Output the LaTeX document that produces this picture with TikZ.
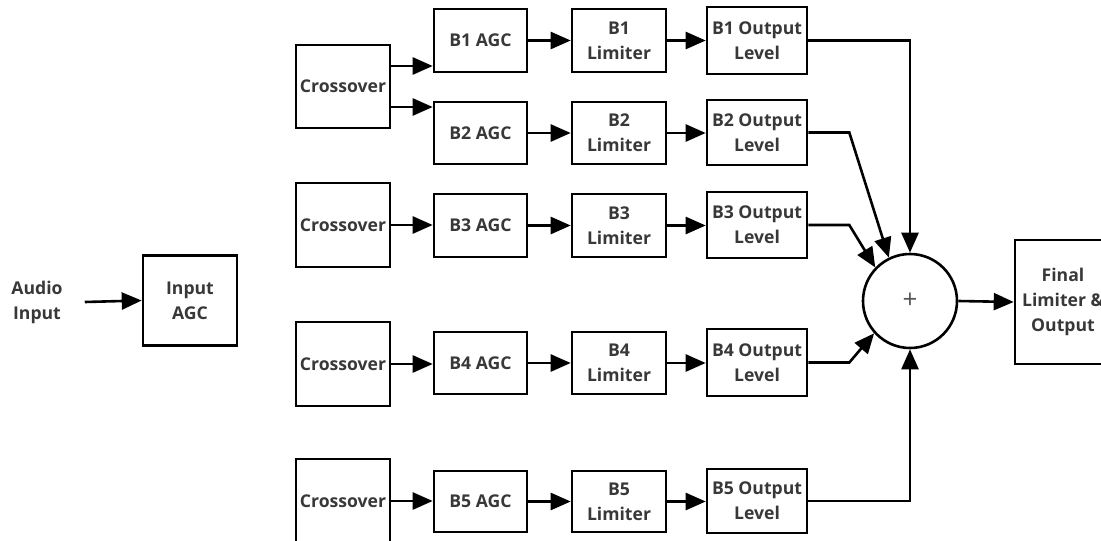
\documentclass[tikz,border=0pt]{standalone}
\usepackage{fontspec}
\setmainfont{Open Sans}
\usetikzlibrary{arrows.meta}
\definecolor{txt}{HTML}{383838}
\tikzset{
  blk/.style={draw=black, line width=2.6pt, fill=white, align=center, inner sep=0pt,
    font=\bfseries\fontsize{17.6}{25}\selectfont, text=txt},
  arr/.style={line width=2.6pt, -{Triangle[length=20pt,width=17pt]}},
  ln/.style={line width=2.6pt}
}
\begin{document}
\begin{tikzpicture}[x=1pt,y=-1pt]
\useasboundingbox (0,0) rectangle (1101,541);
\clip (0,0) rectangle (1101,541);
% left
\node[align=center, inner sep=0pt, font=\bfseries\fontsize{17.6}{25}\selectfont, text=txt] (audio) at (37,302) {Audio\\Input};
\node[blk, minimum width=94pt, minimum height=90pt] (inagc) at (190,300.5) {Input\\AGC};
% crossovers
\node[blk, minimum width=94pt, minimum height=83pt] (cx1) at (343,86.5) {Crossover};
\node[blk, minimum width=94pt, minimum height=84pt] (cx3) at (343,225) {Crossover};
\node[blk, minimum width=94pt, minimum height=84pt] (cx4) at (343,364) {Crossover};
\node[blk, minimum width=94pt, minimum height=84pt] (cx5) at (343,501) {Crossover};
% AGCs
\node[blk, minimum width=93pt, minimum height=63pt] (a1) at (480.5,40.5) {B1 AGC};
\node[blk, minimum width=93pt, minimum height=62pt] (a2) at (480.5,133) {B2 AGC};
\node[blk, minimum width=93pt, minimum height=63pt] (a3) at (480.5,225.5) {B3 AGC};
\node[blk, minimum width=93pt, minimum height=62pt] (a4) at (480.5,363) {B4 AGC};
\node[blk, minimum width=93pt, minimum height=61pt] (a5) at (480.5,501.5) {B5 AGC};
% limiters
\node[blk, minimum width=94pt, minimum height=63pt] (l1) at (619,40.5) {B1\\Limiter};
\node[blk, minimum width=94pt, minimum height=62pt] (l2) at (619,133) {B2\\Limiter};
\node[blk, minimum width=94pt, minimum height=63pt] (l3) at (619,225.5) {B3\\Limiter};
\node[blk, minimum width=94pt, minimum height=62pt] (l4) at (619,363) {B4\\Limiter};
\node[blk, minimum width=94pt, minimum height=61pt] (l5) at (619,501.5) {B5\\Limiter};
% outputs
\node[blk, minimum width=100pt, minimum height=67pt] (o1) at (757,40.5) {B1 Output\\Level};
\node[blk, minimum width=100pt, minimum height=65pt] (o2) at (757,132.5) {B2 Output\\Level};
\node[blk, minimum width=100pt, minimum height=66pt] (o3) at (757,225) {B3 Output\\Level};
\node[blk, minimum width=100pt, minimum height=67pt] (o4) at (757,362.5) {B4 Output\\Level};
\node[blk, minimum width=100pt, minimum height=64pt] (o5) at (757,501) {B5 Output\\Level};
% sum
\node[draw=black, line width=2.6pt, circle, minimum size=94pt, inner sep=0pt] (sum) at (910,301) {};
\node[font=\fontsize{26}{26}\selectfont, text=txt!85] (plus) at (sum.center) {+};
% final
\node[blk, minimum width=96pt, minimum height=124pt] (fin) at (1063,302) {Final\\Limiter \&\\Output};
% connectors
\draw[arr] ([xshift=22pt]audio.east) -- (inagc.west);
\draw[arr] ([yshift=20.5pt]cx1.east) -- ([yshift=20.5pt]cx1.east -| a1.west);
\draw[arr] ([yshift=-20.5pt]cx1.east) -- ([yshift=-20.5pt]cx1.east -| a2.west);
\draw[arr] (cx3.east) -- (cx3.east -| a3.west);
\draw[arr] (cx4.east) -- (cx4.east -| a4.west);
\draw[arr] (cx5.east) -- (cx5.east -| a5.west);
\foreach \i in {1,...,5}{
  \draw[arr] (a\i.east) -- (a\i.east -| l\i.west);
  \draw[arr] (l\i.east) -- (l\i.east -| o\i.west);
}
\draw[arr] (o1.east) -| (sum.north);
\draw[arr] (o2.east) -- ++(41,0) -- (sum.116);
\draw[arr] (o3.east) -- ++(41,0) -- (sum.136);
\draw[arr] (o4.east) -- ++(41,0) -- (sum.222);
\draw[arr] (o5.east) -| (sum.south);
\draw[arr] (sum.east) -- (fin.west);
\end{tikzpicture}
\end{document}
